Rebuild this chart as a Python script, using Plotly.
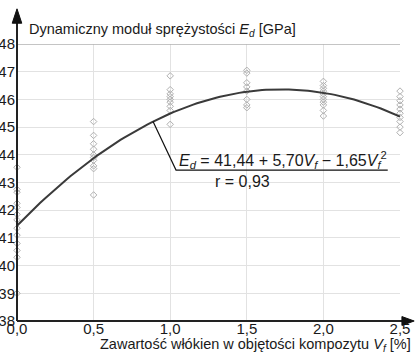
import plotly.graph_objects as go

# --- data ---
x_levels = [0.0, 0.5, 1.0, 1.5, 2.0, 2.5]
vals_00 = [43.55, 42.75, 42.65, 42.25, 42.1, 41.85, 41.65, 41.35, 41.1, 40.8, 40.55, 40.3, 39.0]
vals_05 = [45.2, 44.7, 44.4, 44.2, 44.0, 43.9, 43.8, 43.6, 43.5, 42.55]
vals_10 = [46.85, 46.35, 46.2, 46.1, 46.0, 45.9, 45.75, 45.6, 45.1]
vals_15 = [47.05, 46.95, 46.6, 46.45, 46.3, 46.0, 45.8, 45.7]
vals_20 = [46.65, 46.5, 46.4, 46.3, 46.2, 46.1, 46.0, 45.9, 45.8, 45.6, 45.4]
vals_25 = [46.3, 46.1, 45.95, 45.8, 45.65, 45.5, 45.35, 45.2, 45.0, 44.8]
# regression coefficients stated on the chart
a0, a1, a2 = 41.44, 5.70, -1.65
x_ticks = [0.0, 0.5, 1.0, 1.5, 2.0, 2.5]
y_ticks = [38, 39, 40, 41, 42, 43, 44, 45, 46, 47, 48]

groups = [vals_00, vals_05, vals_10, vals_15, vals_20, vals_25]
px, py = [], []
for xv, g in zip(x_levels, groups):
    px += [xv] * len(g)
    py += g

n = 101
cx = [2.5 * i / (n - 1) for i in range(n)]
cy = [a0 + a1 * v + a2 * v * v for v in cx]

fig = go.Figure()
fig.add_trace(go.Scatter(x=px, y=py, mode="markers",
                         marker=dict(symbol="diamond-open", size=5, color="#b0b0b0", line=dict(width=1)),
                         hoverinfo="skip", cliponaxis=False))
fig.add_trace(go.Scatter(x=cx, y=cy, mode="lines", line=dict(color="#3a3a3a", width=2),
                         hoverinfo="skip"))

# leader line to the equation
lx0 = 0.888
ly0 = a0 + a1 * lx0 + a2 * lx0 * lx0
fig.add_trace(go.Scatter(x=[lx0, 1.038, 2.42], y=[ly0, 43.45, 43.45], mode="lines",
                         line=dict(color="#111", width=1.2), hoverinfo="skip"))

font = "Liberation Sans, Arial, sans-serif"
tc = "#1a1a1a"

shapes = [
    dict(type="line", xref="x", yref="y", x0=0, x1=2.5, y0=48, y1=48, line=dict(color="#b0b0b0", width=1.5)),
    dict(type="line", xref="paper", yref="paper", x0=0, x1=0, y0=0, y1=1.09, line=dict(color="#222", width=2)),
    dict(type="line", xref="paper", yref="paper", x0=0, x1=1.015, y0=0, y1=0, line=dict(color="#222", width=2)),
    dict(type="path", xref="paper", yref="paper",
         path="M -0.0125 1.075 L 0 1.127 L 0.0125 1.075 Z", fillcolor="#111", line=dict(color="#111", width=1)),
    dict(type="path", xref="paper", yref="paper",
         path="M 1.005 -0.016 L 1.037 0 L 1.005 0.016 Z", fillcolor="#111", line=dict(color="#111", width=1)),
]

annotations = [
    dict(text="Dynamiczny moduł sprężystości <i>E</i><sub><i>d</i></sub> [GPa]", xref="paper", yref="paper",
         x=0.026, y=1.05, xanchor="left", yanchor="middle", showarrow=False,
         font=dict(family=font, size=14.5, color=tc)),
    dict(text="Zawartość włókien w objętości kompozytu <i>V</i><sub><i>f</i></sub> [%]", xref="paper", yref="paper",
         x=1.034, y=-0.085, xanchor="right", yanchor="middle", showarrow=False,
         font=dict(family=font, size=14.5, color=tc)),
    dict(text="<i>E</i><sub><i>d</i></sub> = 41,44 + 5,70<i>V</i><sub><i>f</i></sub> − 1,65<i>V</i><sub><i>f</i></sub><sup>2</sup>",
         xref="x", yref="y", x=1.045, y=43.82, xanchor="left", yanchor="middle", showarrow=False,
         font=dict(family=font, size=16, color=tc)),
    dict(text="r = 0,93", xref="x", yref="y", x=1.47, y=43.05, xanchor="center", yanchor="middle",
         showarrow=False, font=dict(family=font, size=16, color=tc)),
]

fig.update_layout(
    width=415, height=353,
    margin=dict(l=17, r=15, t=44, b=32),
    paper_bgcolor="white", plot_bgcolor="white",
    showlegend=False,
    separators=", ",
    shapes=shapes, annotations=annotations,
    xaxis=dict(range=[0, 2.5], tickvals=x_ticks, tickformat=".1f", showgrid=True, gridcolor="#e2e2e2",
               gridwidth=1, zeroline=False, showline=False, ticks="", automargin=False,
               ticklabelstandoff=-3,
               tickfont=dict(family=font, size=15, color=tc)),
    yaxis=dict(range=[38, 48], tickvals=y_ticks, showgrid=True, gridcolor="#e2e2e2", gridwidth=1,
               zeroline=False, showline=False, ticks="", automargin=False, ticklabelstandoff=1,
               tickfont=dict(family=font, size=15, color=tc)),
)

fig.write_html("out.html", config={"displayModeBar": False},
               post_script="document.body.style.margin='0';document.body.style.overflow='hidden';")
